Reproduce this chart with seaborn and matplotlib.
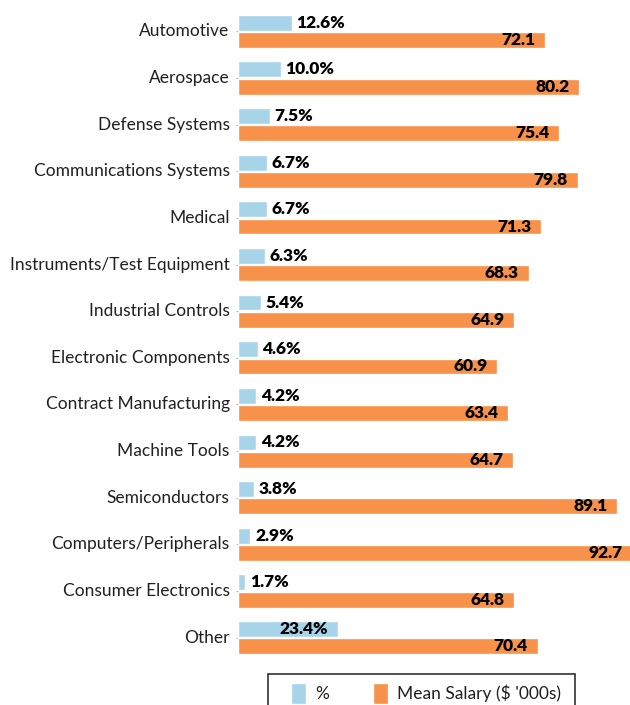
import matplotlib
matplotlib.use("Agg")
import matplotlib.pyplot as plt
from matplotlib.patches import Rectangle
import seaborn as sns
import pandas as pd

categories = ["Automotive", "Aerospace", "Defense Systems", "Communications Systems",
              "Medical", "Instruments/Test Equipment", "Industrial Controls",
              "Electronic Components", "Contract Manufacturing", "Machine Tools",
              "Semiconductors", "Computers/Peripherals", "Consumer Electronics", "Other"]
pct = [12.6, 10.0, 7.5, 6.7, 6.7, 6.3, 5.4, 4.6, 4.2, 4.2, 3.8, 2.9, 1.7, 23.4]
salary = [72.1, 80.2, 75.4, 79.8, 71.3, 68.3, 64.9, 60.9, 63.4, 64.7, 89.1, 92.7, 64.8, 70.4]
series = ["%", "Mean Salary ($ '000s)"]

df = pd.concat([
    pd.DataFrame({"category": categories, "value": pct, "series": series[0]}),
    pd.DataFrame({"category": categories, "value": salary, "series": series[1]}),
])

sns.set_theme(style="white")
plt.rcParams['font.family'] = ['Lato', 'DejaVu Sans']

BLUE = "#A8D4EA"
ORANGE = "#F8914A"
TXT = "#231F20"

fig = plt.figure(figsize=(6.3, 7.05), dpi=100)
W, H = 630, 705
ax = fig.add_axes([238 / W, 1 - 661 / H, 1 - 238 / W, (661 - 8) / H])

sns.barplot(data=df, y="category", x="value", hue="series", order=categories,
            hue_order=series, palette=[BLUE, ORANGE], orient="h", dodge=True,
            width=0.74, gap=0.08, saturation=1, ax=ax, legend=True)

ax.set_xlim(0, 92.1)
ax.set_ylim(len(categories) - 0.5, -0.5)
ax.set_xlabel("")
ax.set_ylabel("")
ax.set_xticks([])
for s in ax.spines.values():
    s.set_visible(False)
ax.tick_params(axis="y", length=1.5, width=0.6, color="#aaaaaa", pad=4.5,
               labelsize=12.5, labelcolor=TXT, left=True)
for lab in ax.get_yticklabels():
    lab.set_verticalalignment("center")

# labels
LW = "heavy"
pct_cont, sal_cont = ax.containers[0], ax.containers[1]
for p, v in zip(pct_cont.patches, pct):
    yc = p.get_y() + p.get_height() / 2
    inside = v > 20
    ax.annotate(f"{v:.1f}%", (p.get_width(), yc),
                xytext=(-7 if inside else 3.5, 0),
                textcoords="offset points", ha="right" if inside else "left",
                va="center", fontsize=12.5, fontweight=LW, color="black",
                annotation_clip=False)
for p, v in zip(sal_cont.patches, salary):
    yc = p.get_y() + p.get_height() / 2
    ax.annotate(f"{v:.1f}", (p.get_width(), yc), xytext=(-7, 0),
                textcoords="offset points", ha="right", va="center",
                fontsize=12.5, fontweight=LW, color="black",
                annotation_clip=False)

handles, labels = ax.get_legend_handles_labels()
ax.get_legend().remove()

# legend frame (cut off by the bottom of the figure as in the reference)
fig.patches.append(Rectangle((268 / W, 1 - 720 / H), (575 - 268) / W, (720 - 674) / H,
                             transform=fig.transFigure, fill=False,
                             edgecolor=TXT, linewidth=1.1))
fs = 12.5
em = fs * 100 / 72
leg = fig.legend(handles, labels, loc="upper left",
                 bbox_to_anchor=(291 / W, 1 - 683 / H), bbox_transform=fig.transFigure,
                 ncol=2, frameon=False, fontsize=fs,
                 handlelength=15 / em, handleheight=1.45, columnspacing=44 / em,
                 handletextpad=9 / em, borderpad=0, borderaxespad=0)
for t in leg.get_texts():
    t.set_color(TXT)

fig.savefig("out.png", dpi=100)
